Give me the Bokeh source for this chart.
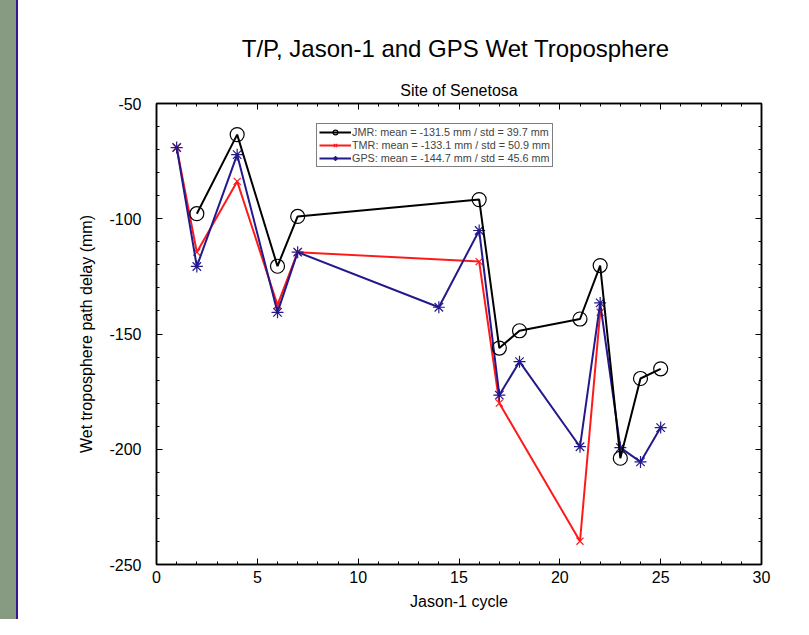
from bokeh.plotting import figure
from bokeh.models import (Range1d, LinearAxis, FixedTicker, Legend, LegendItem,
                          Title, CustomJSTickFormatter)
from bokeh.embed import file_html
from bokeh.resources import INLINE

# ---------------- data ----------------
jmr_cycle = [2, 4, 6, 7, 16, 17, 18, 21, 22, 23, 24, 25]
jmr_delay = [-97.8, -63.5, -120.6, -99.0, -91.7, -156.1, -148.6, -143.5, -120.3, -203.9, -169.3, -165.1]

tmr_cycle = [1, 2, 4, 6, 7, 16, 17, 21, 22]
tmr_delay = [-69.1, -114.5, -83.8, -137.4, -114.5, -118.6, -180.0, -239.9, -140.6]

gps_cycle = [1, 2, 4, 6, 7, 14, 16, 17, 18, 21, 22, 23, 24, 25]
gps_delay = [-69.1, -120.7, -72.2, -140.6, -114.5, -138.4, -105.1, -176.5, -162.0, -198.9, -136.5, -199.3, -205.5, -190.6]

legend_labels = ["JMR: mean = -131.5 mm / std = 39.7 mm",
                 "TMR: mean = -133.1 mm / std = 50.9 mm",
                 "GPS: mean = -144.7 mm / std = 45.6 mm"]

x_ticks = [0, 5, 10, 15, 20, 25, 30]
y_ticks = [-250, -200, -150, -100, -50]
x_minor = list(range(0, 31))
y_minor = list(range(-250, -49, 10))

FONT = "Liberation Sans"
BLACK = "#000000"
RED = "#ff1a1a"
BLUE = "#23198c"

p = figure(width=793, height=619, output_backend="svg", toolbar_location=None,
           x_range=Range1d(0, 30), y_range=Range1d(-250, -50),
           x_axis_location=None, y_axis_location=None,
           min_border_left=156, min_border_right=32, min_border_top=103, min_border_bottom=55,
           background_fill_color="white", border_fill_color=None,
           outline_line_color="black", outline_line_width=1.5)
p.styles = {"background": "linear-gradient(90deg, #879a82 0px, #879a82 16px, #3a1590 16px, #3a1590 18px, #ffffff 18px)"}
p.grid.visible = False
p.title.visible = False

def style_axis(ax, labels=True, standoff=6):
    ax.axis_line_color = "black"
    ax.axis_line_width = 1.5
    ax.major_tick_in = 6
    ax.major_tick_out = 0
    ax.minor_tick_in = 3
    ax.minor_tick_out = 0
    ax.major_tick_line_width = 1
    ax.minor_tick_line_width = 1
    ax.major_label_text_font = FONT
    ax.major_label_text_font_size = "16px"
    ax.major_label_text_color = "black"
    ax.major_label_standoff = standoff
    ax.axis_label_text_font = FONT
    ax.axis_label_text_font_size = "16px"
    ax.axis_label_text_font_style = "normal"
    ax.axis_label_text_color = "black"
    if labels:
        ax.formatter = CustomJSTickFormatter(code="return tick.toFixed(0)")
    else:
        ax.formatter = CustomJSTickFormatter(code="return ''")

xb = LinearAxis(axis_label="Jason-1 cycle")
style_axis(xb, standoff=6)
xb.ticker = FixedTicker(ticks=x_ticks, minor_ticks=x_minor)
xb.axis_label_standoff = 7
p.add_layout(xb, "below")

xt = LinearAxis()
style_axis(xt, labels=False)
xt.ticker = FixedTicker(ticks=x_ticks, minor_ticks=x_minor)
p.add_layout(xt, "above")

yl = LinearAxis(axis_label="Wet troposphere path delay (mm)")
style_axis(yl, standoff=15)
yl.ticker = FixedTicker(ticks=y_ticks, minor_ticks=y_minor)
yl.axis_label_standoff = 11
p.add_layout(yl, "left")

yr = LinearAxis()
style_axis(yr, labels=False)
yr.ticker = FixedTicker(ticks=y_ticks, minor_ticks=y_minor)
p.add_layout(yr, "right")

# titles
p.add_layout(Title(text="Site of Senetosa", text_font=FONT, text_font_size="16px",
                   text_font_style="normal", text_color="black", align="center",
                   standoff=9), "above")
p.add_layout(Title(text="T/P, Jason-1 and GPS  Wet Troposphere", text_font=FONT,
                   text_font_size="24px", text_font_style="normal", text_color="black",
                   align="center", offset=-5, standoff=28), "above")

# series
l_tmr = p.line(tmr_cycle, tmr_delay, line_color=RED, line_width=2)
s_tmr = p.scatter(tmr_cycle, tmr_delay, marker="x", size=10, line_color=RED, line_width=1.2)

l_gps = p.line(gps_cycle, gps_delay, line_color=BLUE, line_width=2)
s_gps = p.scatter(gps_cycle, gps_delay, marker="asterisk", size=12, line_color=BLUE, line_width=1.2)

l_jmr = p.line(jmr_cycle, jmr_delay, line_color=BLACK, line_width=2)
s_jmr = p.scatter(jmr_cycle, jmr_delay, marker="circle", size=14, line_color=BLACK,
                  fill_color=None, line_width=1.2)

legend = Legend(items=[LegendItem(label=legend_labels[0], renderers=[l_jmr, s_jmr]),
                       LegendItem(label=legend_labels[1], renderers=[l_tmr, s_tmr]),
                       LegendItem(label=legend_labels[2], renderers=[l_gps, s_gps])],
                location=(160, 397), orientation="vertical",
                label_text_font=FONT, label_text_font_size="10.8px",
                label_height=12, glyph_height=12, glyph_width=32,
                label_standoff=1, spacing=1, padding=2, margin=0,
                border_line_color="black", border_line_width=1,
                background_fill_alpha=1)
p.add_layout(legend, "center")

open("out.html", "w").write(file_html(p, INLINE))
